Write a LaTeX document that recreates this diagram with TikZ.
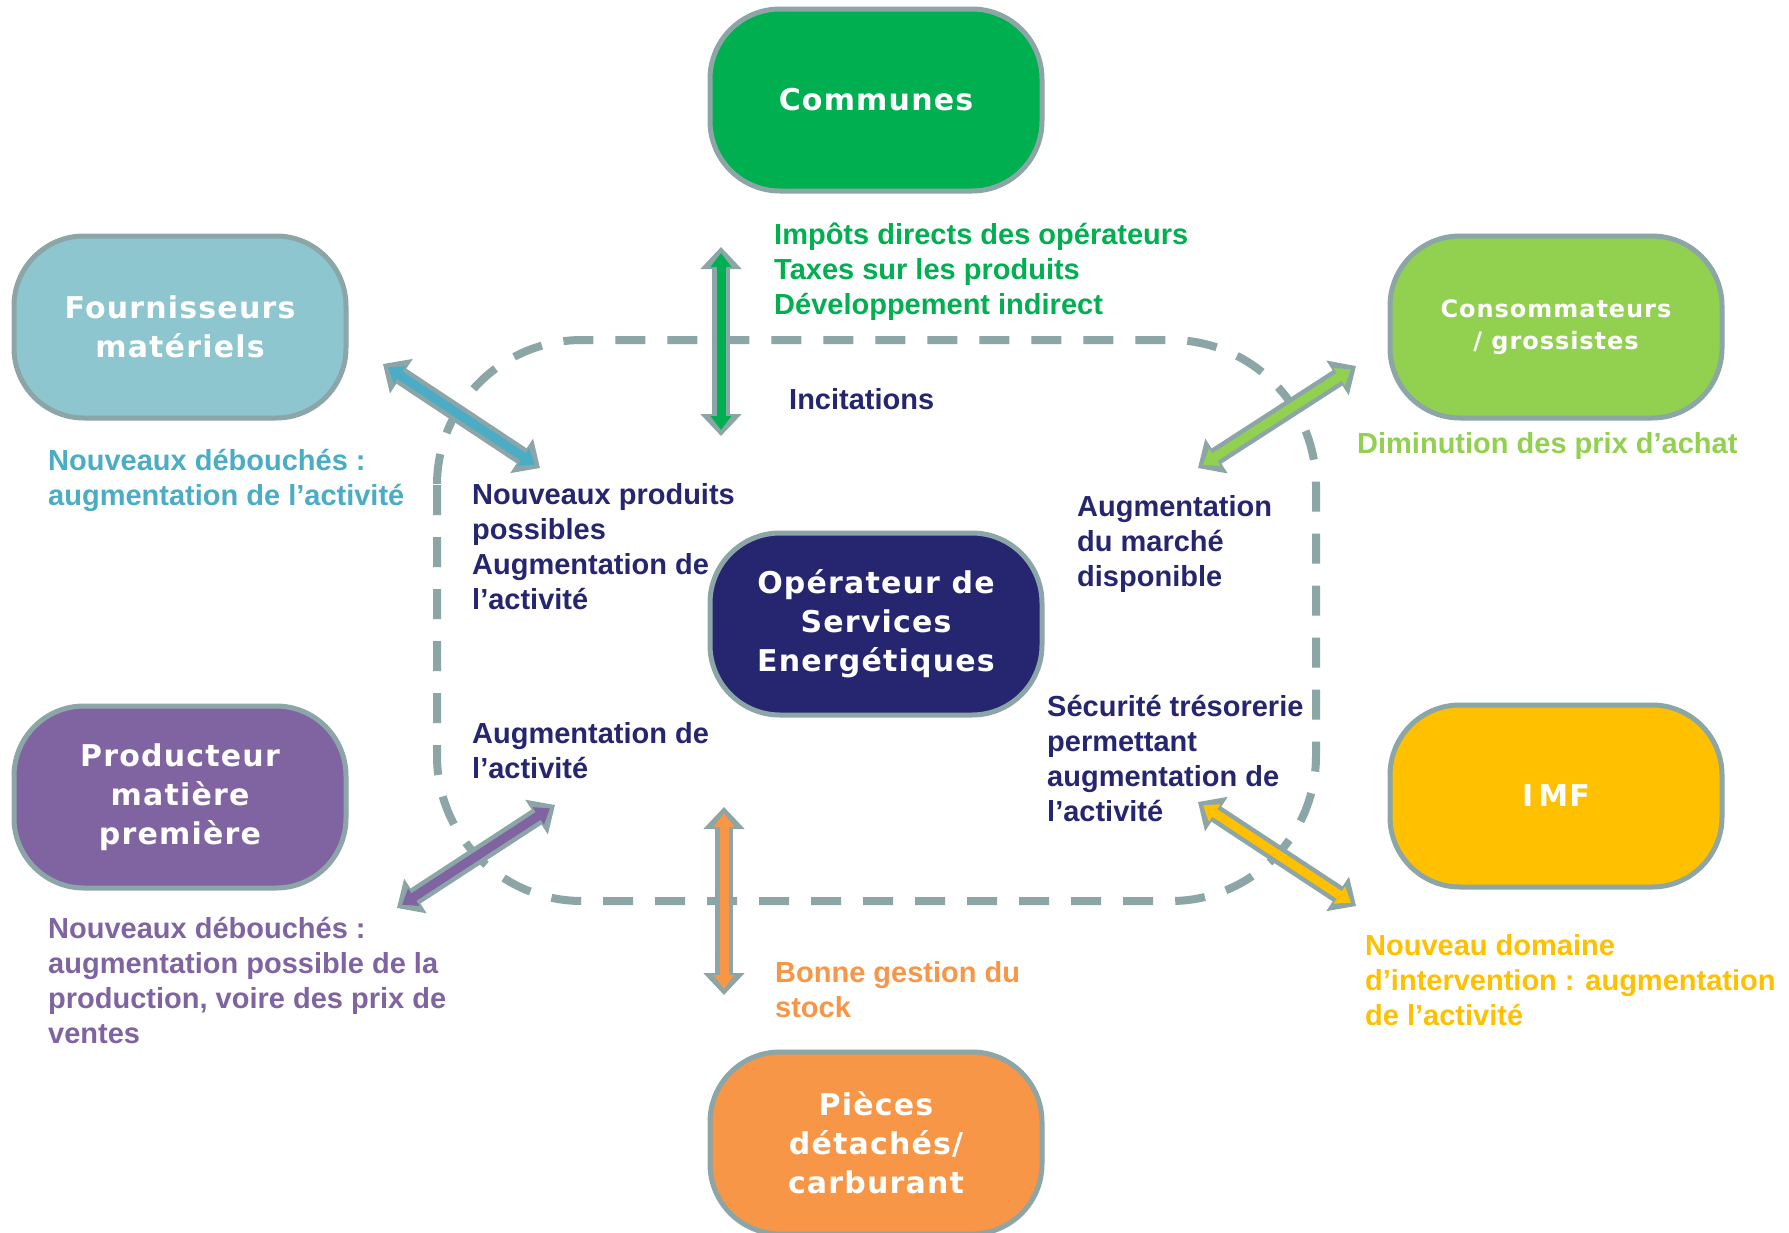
\documentclass[tikz,border=0pt]{standalone}
\usepackage{fontspec}
\setmainfont{Liberation Sans}
\newfontfamily\boxfont[LetterSpace=4]{DejaVu Sans Bold}
\usetikzlibrary{arrows.meta}
\definecolor{cgray}{HTML}{8CA5A7}
\definecolor{cgreen}{HTML}{00B050}
\definecolor{cteal}{HTML}{8DC6CE}
\definecolor{cblue}{HTML}{4BACC6}
\definecolor{clime}{HTML}{92D050}
\definecolor{cpurple}{HTML}{8064A2}
\definecolor{cyellow}{HTML}{FFC000}
\definecolor{cnavy}{HTML}{262670}
\definecolor{corange}{HTML}{F79646}
\newcommand\mylines[1]{\begin{tabular}[t]{@{}l@{}}#1\end{tabular}}
\begin{document}
\begin{tikzpicture}[x=1pt,y=-1pt,
  box/.style={draw=cgray, line width=5pt, rounded corners=70pt, minimum width=332pt,
    minimum height=182pt, inner sep=0pt, align=center, text=white,
    font=\boxfont\fontsize{30}{39}\selectfont},
  outerarrow/.style={draw=cgray, line width=18pt,
    {Triangle[length=22pt,width=40pt]}-{Triangle[length=22pt,width=40pt]}},
  innerarrow/.style={line width=9pt,
    {Triangle[length=14pt,width=20pt]}-{Triangle[length=14pt,width=20pt]},
    shorten <=6pt, shorten >=6pt},
  ann/.style={anchor=base west, inner sep=0pt, font=\fontsize{29}{35}\selectfont\bfseries},
  dashbox/.style={draw=cgray, line width=8pt, dash pattern=on 30pt off 22pt, rounded corners=145pt}
]
\useasboundingbox (0,0) rectangle (1789,1232);
\fill[white] (0,0) rectangle (1789,1232);

% dashed frame
\draw[dashbox] (437,340) rectangle (1316,901);

% arrow end points
\coordinate (ga) at (721,247); \coordinate (gb) at (721,436);
\coordinate (oa) at (724,807); \coordinate (ob) at (724,995);
\coordinate (ba) at (383,364); \coordinate (bb) at (540,468);
\coordinate (la) at (1356,366); \coordinate (lb) at (1198,468);
\coordinate (pa) at (555,805); \coordinate (pb) at (397,908);
\coordinate (ya) at (1198,802); \coordinate (yb) at (1356,906);

\foreach \a/\b/\c in {ga/gb/cgreen, oa/ob/corange, ba/bb/cblue, la/lb/clime, pa/pb/cpurple, ya/yb/cyellow}{
  \draw[outerarrow] (\a) -- (\b);
  \draw[innerarrow, draw=\c] (\a) -- (\b);
}

% boxes
\node[box, fill=cgreen] (communes) at (876,100) {Communes};
\node[box, fill=cteal] (fourn) at (180,327) {Fournisseurs\\matériels};
\node[box, fill=clime, font=\boxfont\fontsize{24}{32}\selectfont] (conso) at (1556,327) {Consommateurs\\/ grossistes};
\node[box, fill=cpurple] (prod) at (180,797) {Producteur\\matière\\première};
\node[box, fill=cyellow] (imf) at (1556,796) {I\kern5pt MF};
\node[box, fill=cnavy] (ose) at (876,624) {Opérateur de\\Services\\Energétiques};
\node[box, fill=corange] (pieces) at (876,1143) {Pièces\\détachés/\\carburant};

% annotations
\node[ann, text=cgreen] (t1) at (774,244) {\mylines{Impôts directs des opérateurs\\Taxes sur les produits\\Développement indirect}};
\node[ann, text=cnavy] (t2) at (789,409) {Incitations};
\node[ann, text=cblue] (t3) at (48,470) {\mylines{Nouveaux débouchés :\\augmentation de l’activité}};
\node[ann, text=clime] (t4) at (1357,453) {Diminution des prix d’achat};
\node[ann, text=cnavy] (t5) at (472,504) {\mylines{Nouveaux produits\\possibles\\Augmentation de\\l’activité}};
\node[ann, text=cnavy] (t6) at (1077,516) {\mylines{Augmentation\\du marché\\disponible}};
\node[ann, text=cnavy] (t7) at (472,743) {\mylines{Augmentation de\\l’activité}};
\node[ann, text=cnavy] (t8) at (1047,716) {\mylines{Sécurité trésorerie\\permettant\\augmentation de\\l’activité}};
\node[ann, text=cpurple] (t9) at (48,938) {\mylines{Nouveaux débouchés :\\augmentation possible de la\\production, voire des prix de\\ventes}};
\node[ann, text=corange] (t10) at (775,982) {\mylines{Bonne gestion du\\stock}};
\node[ann, text=cyellow] (t11) at (1365,955) {\mylines{Nouveau domaine\\d’intervention : augmentation\\de l’activité}};
\end{tikzpicture}
\end{document}
